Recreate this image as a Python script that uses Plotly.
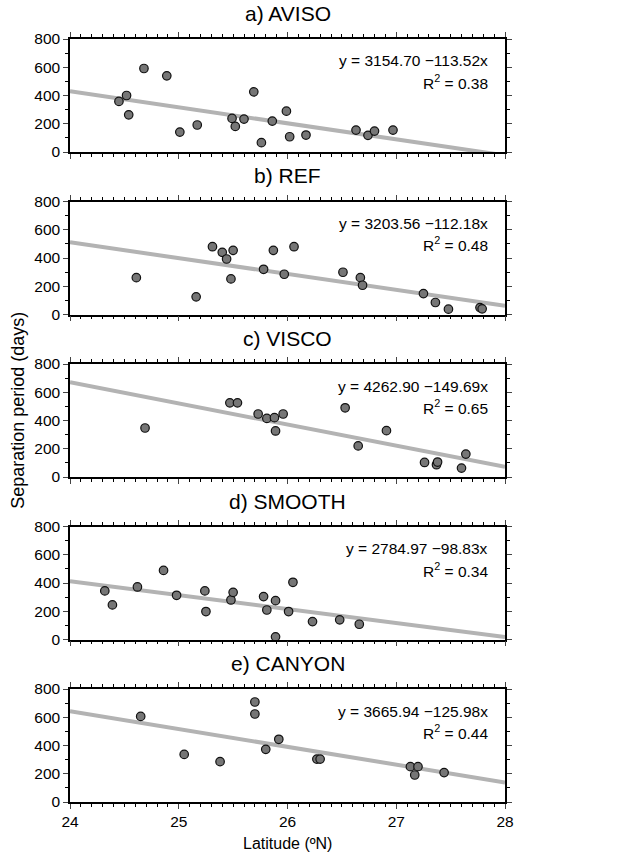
import plotly.graph_objects as go
from plotly.subplots import make_subplots

# ---------------- data ----------------
panel_titles = ["a) AVISO", "b) REF", "c) VISCO", "d) SMOOTH", "e) CANYON"]

lat_a = [24.45, 24.52, 24.54, 24.68, 24.89, 25.01, 25.17, 25.49, 25.52, 25.60,
         25.69, 25.76, 25.86, 25.99, 26.02, 26.17, 26.63, 26.74, 26.80, 26.97]
per_a = [358, 400, 263, 591, 539, 141, 191, 238, 181, 233,
         426, 66, 219, 289, 108, 120, 155, 118, 148, 155]

lat_b = [24.61, 25.16, 25.31, 25.40, 25.44, 25.50, 25.48, 25.78, 25.87, 25.97,
         26.06, 26.51, 26.67, 26.69, 27.25, 27.36, 27.48, 27.77, 27.79]
per_b = [261, 125, 480, 440, 393, 454, 252, 320, 454, 285,
         480, 299, 261, 207, 148, 85, 38, 49, 40]

lat_c = [24.69, 25.47, 25.54, 25.73, 25.81, 25.88, 25.89, 25.96, 26.53, 26.65,
         26.91, 27.26, 27.37, 27.38, 27.60, 27.64]
per_c = [347, 525, 525, 446, 415, 420, 326, 446, 490, 220,
         328, 103, 87, 106, 63, 162]

lat_d = [24.32, 24.39, 24.62, 24.86, 24.98, 25.24, 25.25, 25.48, 25.50, 25.78,
         25.81, 25.89, 25.89, 26.01, 26.05, 26.23, 26.48, 26.66]
per_d = [344, 245, 372, 489, 313, 344, 198, 280, 334, 304,
         209, 275, 19, 198, 405, 127, 139, 108]

lat_e = [24.65, 25.05, 25.38, 25.70, 25.70, 25.80, 25.92, 26.27, 26.30, 27.13,
         27.17, 27.20, 27.44]
per_e = [606, 337, 286, 708, 623, 373, 444, 304, 304, 250, 191, 250, 208]

intercepts = [3154.70, 3203.56, 4262.90, 2784.97, 3665.94]
slopes = [-113.52, -112.18, -149.69, -98.83, -125.98]
r2_values = [0.38, 0.48, 0.65, 0.34, 0.44]

x_range = [24, 28]
x_ticks = [24, 25, 26, 27, 28]
y_ticks = [0, 200, 400, 600, 800]

lats = [lat_a, lat_b, lat_c, lat_d, lat_e]
pers = [per_a, per_b, per_c, per_d, per_e]

# ---------------- figure ----------------
W, H = 627, 857
FONT = "Liberation Sans, Arial, sans-serif"
fig = make_subplots(rows=5, cols=1)

tops_px = [39, 201.5, 364, 526.5, 689]
h_px = 113

for i in range(5):
    r = i + 1
    a, b = intercepts[i], slopes[i]
    fig.add_trace(go.Scatter(
        x=x_range, y=[a + b * x for x in x_range], mode="lines",
        line=dict(color="#b3b3b3", width=4), showlegend=False, hoverinfo="skip"),
        row=r, col=1)
    fig.add_trace(go.Scatter(
        x=lats[i], y=pers[i], mode="markers", cliponaxis=False,
        marker=dict(size=8.5, color="#767676", line=dict(color="#111111", width=1.2)),
        showlegend=False), row=r, col=1)

    top = tops_px[i]
    dom = [1 - (top + h_px) / H, 1 - top / H]
    axn = "" if r == 1 else str(r)
    fig.layout["yaxis" + axn].update(
        domain=dom, range=[0, 800], tickvals=y_ticks, ticks="outside", ticklen=5,
        tickwidth=1.3, showline=True, linecolor="black", linewidth=1.5, mirror="ticks",
        showgrid=False, zeroline=False, automargin=False,
        minor=dict(dtick=100, ticks="outside", ticklen=3, tickwidth=1.1, tickcolor="black"),
        tickfont=dict(size=15.5, color="black", family=FONT))
    fig.layout["xaxis" + axn].update(
        range=x_range, tickvals=x_ticks, ticks="outside", ticklen=5, tickwidth=1.3,
        showline=True, linecolor="black", linewidth=1.5, mirror="ticks",
        showgrid=False, zeroline=False, showticklabels=(r == 5), automargin=False,
        minor=dict(dtick=0.1, ticks="outside", ticklen=3, tickwidth=1.1, tickcolor="black"),
        tickfont=dict(size=15.5, color="black", family=FONT))

    xd = "x" + axn + " domain"
    yd = "y" + axn + " domain"
    fig.add_annotation(text=panel_titles[i], xref=xd, yref=yd, x=0.5, y=1,
                       xanchor="center", yanchor="bottom", yshift=12, showarrow=False,
                       font=dict(size=21, color="black", family=FONT))
    fig.add_annotation(text=f"y = {a:.2f} \u2212{abs(b):.2f}x", xref=xd, yref=yd,
                       x=1, y=1, xanchor="right", yanchor="middle", xshift=-15, yshift=-22,
                       showarrow=False, font=dict(size=15.5, color="black", family=FONT))
    fig.add_annotation(text=f"R<sup>2</sup> = {r2_values[i]:.2f}", xref=xd, yref=yd,
                       x=1, y=1, xanchor="right", yanchor="middle", xshift=-15, yshift=-43,
                       showarrow=False, font=dict(size=15.5, color="black", family=FONT))

fig.add_annotation(text="Separation period (days)", xref="paper", yref="paper",
                   x=-0.12, y=1 - 410 / H, xanchor="center", yanchor="middle",
                   textangle=-90, showarrow=False,
                   font=dict(size=18, color="black", family=FONT))
fig.add_annotation(text="Latitude (\u00baN)", xref="paper", yref="paper",
                   x=0.5, y=1 - 843 / H, xanchor="center", yanchor="middle",
                   showarrow=False, font=dict(size=16, color="black", family=FONT))

fig.update_layout(width=W, height=H, margin=dict(l=70, r=122, t=0, b=0),
                  plot_bgcolor="white", paper_bgcolor="white",
                  font=dict(family=FONT, color="black"))

fig.write_html("out.html")
